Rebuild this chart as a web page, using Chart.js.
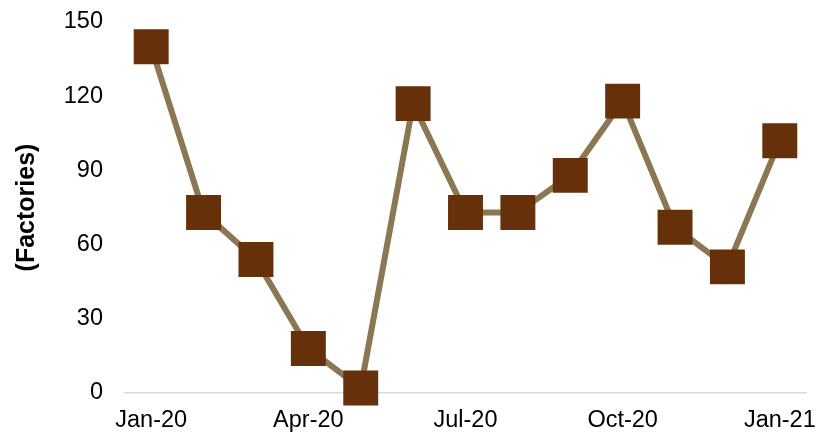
<!DOCTYPE html>
<html>
<head>
<meta charset="utf-8">
<script src="https://cdn.jsdelivr.net/npm/chart.js@4"></script>
<style>
    html, body { margin: 0; padding: 0; background: #fff; }
    #wrap { width: 823px; height: 435px; }
</style>
</head>
<body>
<div id="wrap"><canvas id="factoriesChart" width="823" height="435"></canvas></div>
<script>
// monthly data, Jan-20 .. Jan-21
const months = ['Jan-20', 'Feb-20', 'Mar-20', 'Apr-20', 'May-20', 'Jun-20', 'Jul-20',
    'Aug-20', 'Sep-20', 'Oct-20', 'Nov-20', 'Dec-20', 'Jan-21'];
const factories = [140, 73, 54, 18, 2, 117, 73, 73, 88, 118, 67, 51, 102];
const yTicks = [0, 30, 60, 90, 120, 150];

const ctx = document.getElementById('factoriesChart').getContext('2d');
new Chart(ctx, {
    type: 'line',
    data: {
        labels: months,
        datasets: [{
            label: 'Factories',
            data: factories,
            borderColor: '#8b7753',
            borderWidth: 6,
            pointStyle: 'rect',
            pointRadius: 24.7,
            pointBackgroundColor: '#66300a',
            pointBorderColor: '#66300a',
            pointBorderWidth: 0,
            clip: false,
            tension: 0
        }]
    },
    options: {
        responsive: false,
        animation: false,
        layout: {
            autoPadding: false,
            padding: { top: 22, right: 17, left: 0, bottom: 0 }
        },
        plugins: {
            legend: { display: false },
            tooltip: { enabled: false }
        },
        scales: {
            x: {
                offset: true,
                grid: { display: false, drawTicks: false },
                border: { display: true, color: '#d9d9d9', width: 1.5 },
                afterFit: (scale) => {
                    scale.height = 42;
                    scale.paddingLeft = 0;
                    scale.paddingRight = 0;
                },
                ticks: {
                    autoSkip: false,
                    maxRotation: 0,
                    padding: 13,
                    color: '#000',
                    font: { family: 'Liberation Sans', size: 23.5 },
                    callback: function (value, index) {
                        return index % 3 === 0 ? months[index] : '';
                    }
                }
            },
            y: {
                min: 0,
                max: 150,
                afterBuildTicks: (scale) => { scale.ticks = yTicks.map(v => ({ value: v })); },
                afterFit: (scale) => {
                    scale.width = 125;
                    scale.paddingTop = 0;
                    scale.paddingBottom = 0;
                },
                grid: { display: false, drawTicks: false },
                border: { display: false },
                ticks: {
                    padding: 22,
                    color: '#000',
                    font: { family: 'Liberation Sans', size: 23.5 }
                },
                title: {
                    display: true,
                    text: '(Factories)',
                    color: '#000',
                    padding: { top: 12, bottom: 0 },
                    font: { family: 'Liberation Sans', size: 25, weight: 'bold' }
                }
            }
        }
    }
});
</script>
</body>
</html>
